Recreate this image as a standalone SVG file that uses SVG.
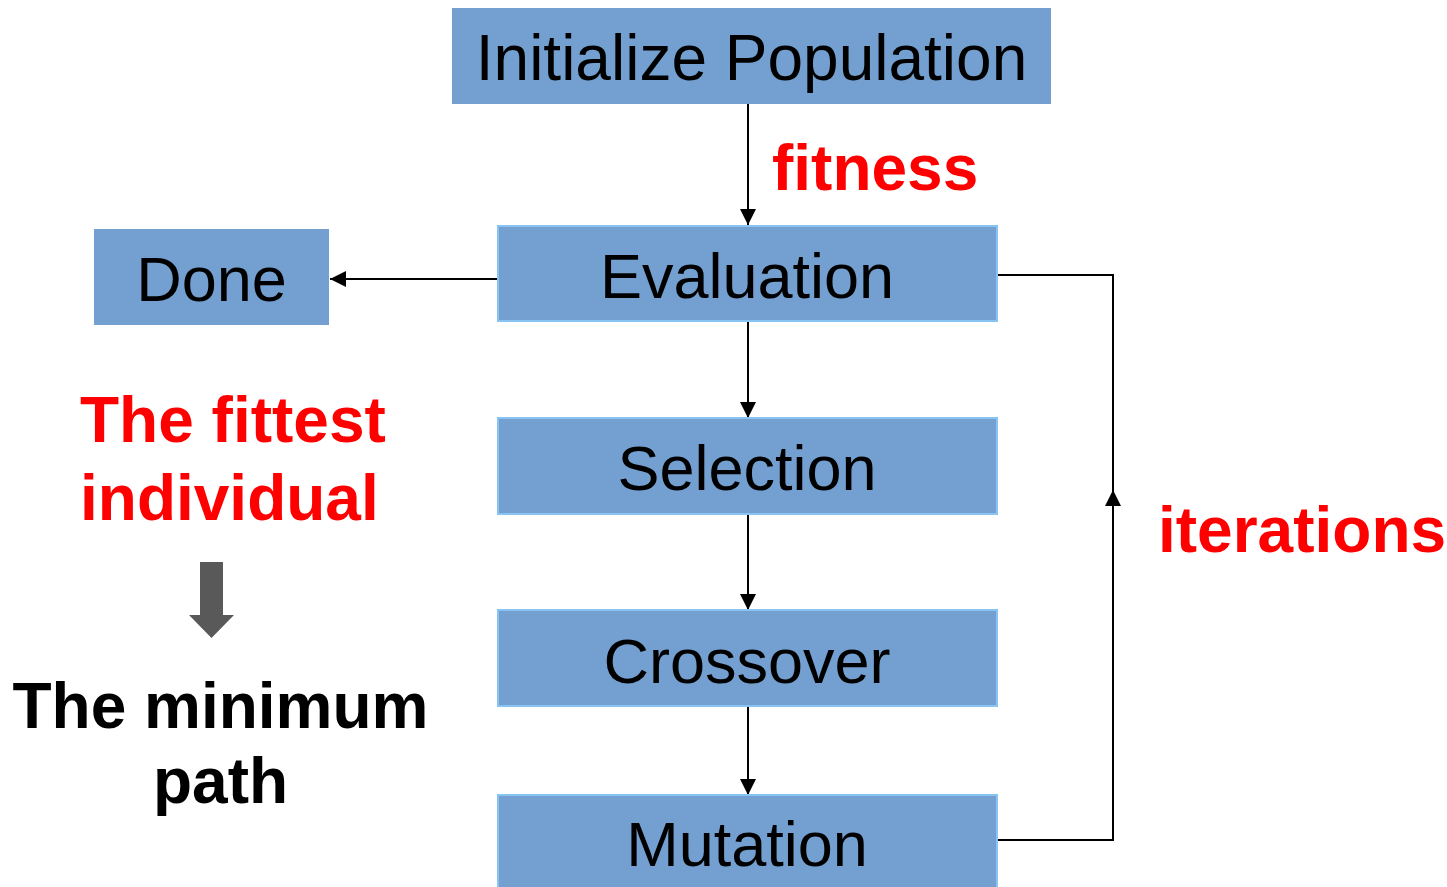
<svg xmlns="http://www.w3.org/2000/svg" width="1447" height="887" viewBox="0 0 1447 887">
<defs>
<style>
.box{fill:#73a0d0;}
.bb{stroke:#88c4f2;stroke-width:2;}
.nt{font-family:"Liberation Sans",Arial,sans-serif;font-size:63px;fill:#000;text-anchor:middle;}
.red{font-family:"Liberation Sans",Arial,sans-serif;font-size:64px;font-weight:bold;fill:#ff0000;}
.blk{font-family:"Liberation Sans",Arial,sans-serif;font-size:64px;font-weight:bold;fill:#000;text-anchor:middle;}
.con{fill:none;stroke:#000;stroke-width:2;}
</style>
<marker id="ah2" viewBox="0 0 10 10" refX="10" refY="5" markerWidth="16" markerHeight="16" markerUnits="userSpaceOnUse" orient="auto">
<path d="M0,0 L10,5 L0,10 Z" fill="#000"/>
</marker>
</defs>
<rect width="1447" height="887" fill="#fff"/>
<g id="connectors">
<path class="con" d="M748,104 V225" marker-end="url(#ah2)"/>
<path class="con" d="M498,279 H330" marker-end="url(#ah2)"/>
<path class="con" d="M748,321 V418" marker-end="url(#ah2)"/>
<path class="con" d="M748,514 V610" marker-end="url(#ah2)"/>
<path class="con" d="M748,706 V795" marker-end="url(#ah2)"/>
<path class="con" d="M997,840 H1113 V490" marker-end="url(#ah2)"/>
<path class="con" d="M997,275 H1113 V500"/>
</g>
<g id="init">
<rect class="box" x="452" y="8" width="599" height="96"/>
<text class="nt" x="751.5" y="80" style="font-size:64px">Initialize Population</text>
</g>
<g id="evaluation">
<rect class="box bb" x="498" y="226" width="499" height="95"/>
<text class="nt" x="747" y="298">Evaluation</text>
</g>
<g id="done">
<rect class="box" x="94" y="229" width="235" height="96"/>
<text class="nt" x="211.5" y="301">Done</text>
</g>
<g id="selection">
<rect class="box bb" x="498" y="418" width="499" height="96"/>
<text class="nt" x="747" y="490">Selection</text>
</g>
<g id="crossover">
<rect class="box bb" x="498" y="610" width="499" height="96"/>
<text class="nt" x="747" y="683">Crossover</text>
</g>
<g id="mutation">
<rect class="box bb" x="498" y="795" width="499" height="100"/>
<text class="nt" x="747" y="866">Mutation</text>
</g>
<g id="labels">
<text class="red" x="772" y="190">fitness</text>
<text class="red" x="1158" y="552">iterations</text>
<text class="red" x="80" y="442">The fittest</text>
<text class="red" x="80" y="520">individual</text>
<path d="M200,562 H223 V615 H234 L211.5,638 L189,615 H200 Z" fill="#595959"/>
<text class="blk" x="220.5" y="728">The minimum</text>
<text class="blk" x="220.5" y="803">path</text>
</g>
</svg>
